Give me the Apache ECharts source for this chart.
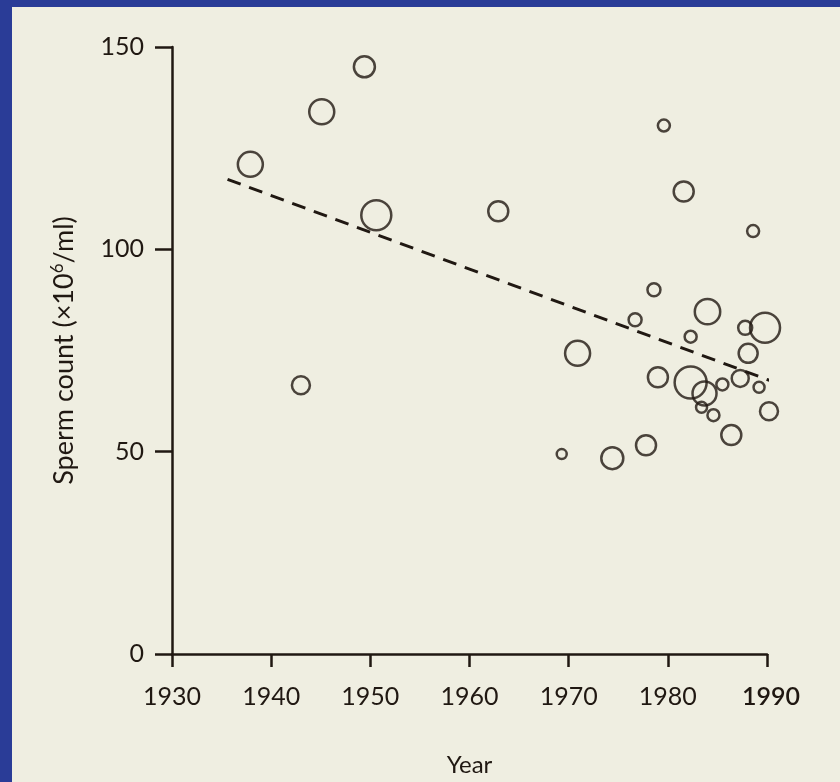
<!DOCTYPE html>
<html>
<head>
<meta charset="utf-8">
<script src="https://cdn.jsdelivr.net/npm/echarts@6/dist/echarts.min.js"></script>
<style>
    html, body { margin: 0; padding: 0; background: #2a3c97; }
    #paper { position: absolute; left: 12px; top: 7px; width: 828px; height: 775px; background: #efeee1; }
    #chart { position: absolute; left: 0; top: 0; width: 840px; height: 782px; }
</style>
</head>
<body>
<div id="paper"></div>
<div id="chart"></div>
<script>
// study year, mean count (x10^6/ml), relative study weight (bubble size)
var years = [1937.9, 1943.0, 1945.1, 1949.4, 1950.6, 1962.9, 1969.3, 1970.9, 1974.4, 1976.7,
    1977.8, 1978.6, 1979.0, 1979.6, 1981.6, 1982.3, 1982.3, 1983.7, 1983.4, 1984.0,
    1984.6, 1985.5, 1986.4, 1987.3, 1988.1, 1987.8, 1988.6, 1989.2, 1989.8, 1990.2];
var counts = [121, 66.4, 134, 145.1, 108.4, 109.4, 49.4, 74.3, 48.4, 82.6,
    51.6, 90, 68.4, 130.6, 114.3, 78.4, 67.1, 64.4, 61, 84.6,
    59, 66.6, 54.1, 68.1, 74.3, 80.6, 104.5, 65.9, 80.6, 60];
var weights = [12.5, 9, 12.5, 10.5, 15, 10, 5, 12.5, 11, 6.5,
    10, 6.5, 10, 6, 10, 6, 16, 12, 5.5, 12.7,
    6, 6, 10, 8.5, 9.5, 7, 6, 5.5, 15, 9];
// fitted regression line ends
var trendYears = [1935.6, 1990.5];
var trendCounts = [117.3, 67.4];

var xTicks = [1930, 1990, 10];
var yTicks = [0, 150, 50];

var ink = '#201812';
var points = [];
years.forEach(function (y, i) {
    points.push([y, counts[i], weights[i]]);
});
var trend = trendYears.map(function (y, i) { return [y, trendCounts[i]]; });

var chart = echarts.init(document.getElementById('chart'));
var font = 'Lato, "DejaVu Sans", sans-serif';
var option = {
    backgroundColor: 'transparent',
    animation: false,
    grid: { left: 172, right: 73, top: 47, bottom: 126 },
    xAxis: {
        type: 'value',
        min: xTicks[0], max: xTicks[1], interval: xTicks[2],
        name: 'Year',
        nameLocation: 'middle',
        nameGap: 99,
        nameTextStyle: { color: ink, fontSize: 24, fontFamily: font },
        splitLine: { show: false },
        axisLine: { onZero: false, lineStyle: { color: ink, width: 2.5 } },
        axisTick: { length: 13, lineStyle: { color: ink, width: 2.5 } },
        axisLabel: {
            color: ink, fontSize: 25, fontFamily: font, margin: 30,
            formatter: function (v) { return v === 1990 ? '{b|1990}' : String(v); },
            rich: { b: { fontWeight: 600, fontSize: 25, fontFamily: font, color: ink, padding: [0, 0, 0, 8] } }
        }
    },
    yAxis: {
        type: 'value',
        min: yTicks[0], max: yTicks[1], interval: yTicks[2],
        name: '{a|Sperm count (×10}{s|6}{a|/ml)}',
        nameLocation: 'middle',
        nameGap: 93,
        nameRotate: 90,
        nameTextStyle: {
            rich: {
                a: { color: ink, fontSize: 27, fontFamily: font },
                s: { color: ink, fontSize: 17, fontFamily: font, verticalAlign: 'top', padding: [0, 0, 13, 0] }
            }
        },
        splitLine: { show: false },
        axisLine: { show: true, lineStyle: { color: ink, width: 2.5 } },
        axisTick: { show: true, length: 17, lineStyle: { color: ink, width: 2.5 } },
        axisLabel: { color: ink, fontSize: 25, fontFamily: font, margin: 28 }
    },
    series: [
        {
            type: 'scatter',
            clip: false,
            data: points,
            symbol: 'circle',
            symbolSize: function (d) { return d[2] * 2; },
            itemStyle: {
                color: 'rgba(0,0,0,0)',
                borderColor: ink,
                borderWidth: 2.5
            }
        },
        {
            type: 'line',
            clip: false,
            data: trend,
            symbol: 'none',
            lineStyle: { color: ink, width: 3, type: [14, 9] }
        }
    ]
};
option && chart.setOption(option);
</script>
</body>
</html>
